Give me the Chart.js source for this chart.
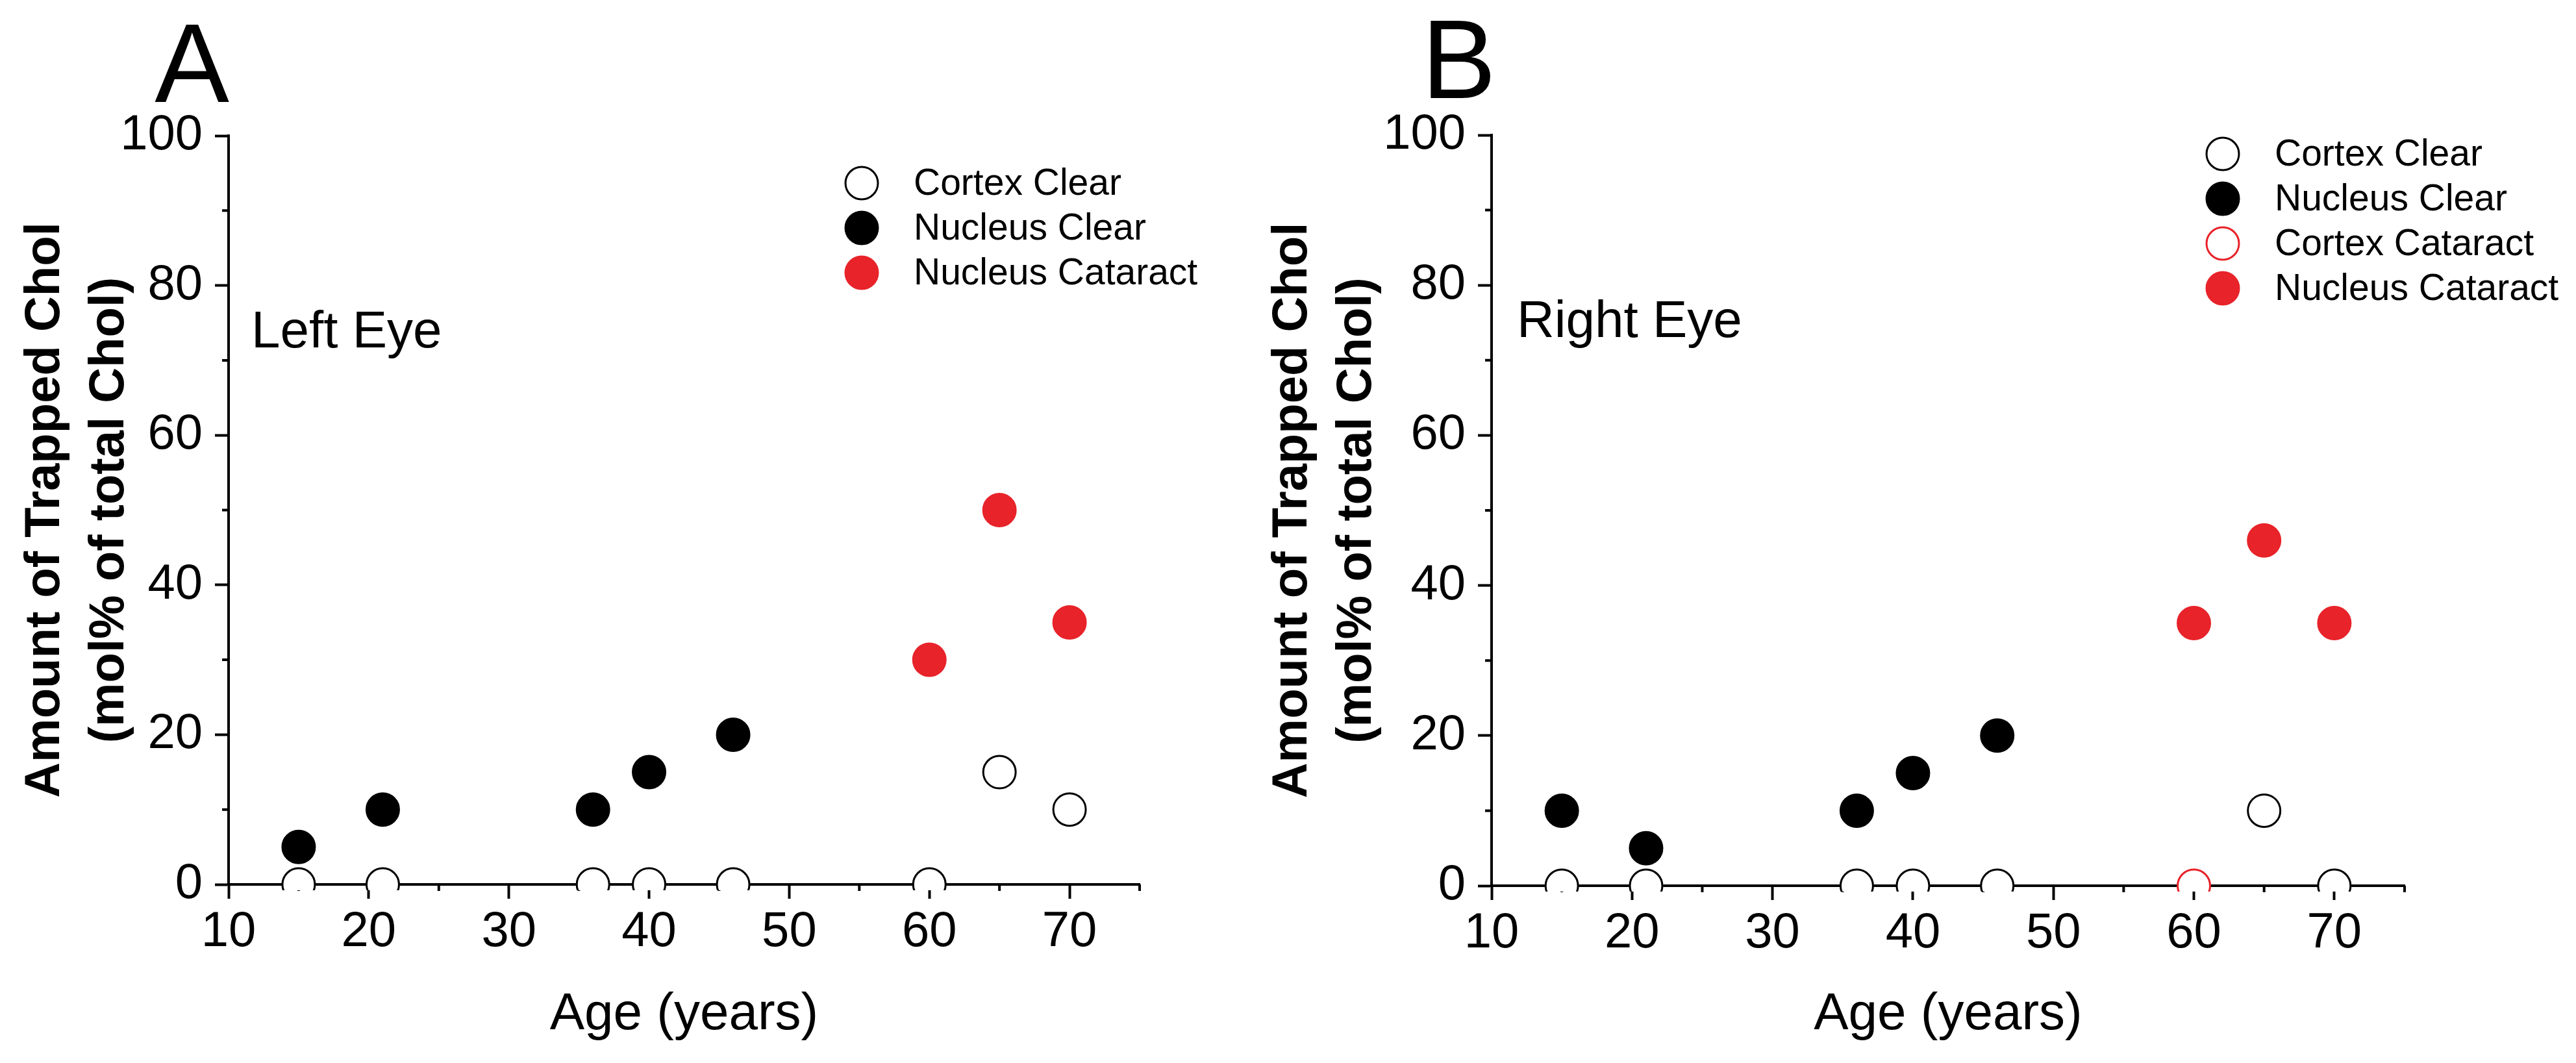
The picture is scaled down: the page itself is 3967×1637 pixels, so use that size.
<!DOCTYPE html>
<html>
<head>
<meta charset="utf-8">
<title>Trapped Chol vs Age</title>
<script src="https://cdn.jsdelivr.net/npm/chart.js@4.4.1/dist/chart.umd.min.js"></script>
<style>
  html, body { margin: 0; padding: 0; background: #fff; }
  .panel { position: absolute; top: 0; height: 1637px; }
  #panelA { left: 0; width: 1900px; }
  #panelB { left: 1900px; width: 2067px; }
</style>
</head>
<body>
<div class="panel" id="panelA"><canvas id="chartA"></canvas></div>
<div class="panel" id="panelB"><canvas id="chartB"></canvas></div>
<script>
// Panel A - left eye
const leftCortexClearAge = [15, 21, 36, 40, 46, 60, 65, 70];
const leftCortexClearVal = [0, 0, 0, 0, 0, 0, 15, 10];
const leftNucleusClearAge = [15, 21, 36, 40, 46];
const leftNucleusClearVal = [5, 10, 10, 15, 20];
const leftNucleusCataractAge = [60, 65, 70];
const leftNucleusCataractVal = [30, 50, 35];

// Panel B - right eye
const rightCortexClearAge = [15, 21, 36, 40, 46, 65, 70];
const rightCortexClearVal = [0, 0, 0, 0, 0, 10, 0];
const rightNucleusClearAge = [15, 21, 36, 40, 46];
const rightNucleusClearVal = [10, 5, 10, 15, 20];
const rightCortexCataractAge = [60];
const rightCortexCataractVal = [0];
const rightNucleusCataractAge = [60, 65, 70];
const rightNucleusCataractVal = [35, 46, 35];

// axes
const xTicks = [10, 20, 30, 40, 50, 60, 70];
const xMinorTicks = [15, 25, 35, 45, 55, 65, 75];
const yTicks = [0, 20, 40, 60, 80, 100];
const yMinorTicks = [10, 30, 50, 70, 90];

const FONT = "'Liberation Sans', Arial, sans-serif";
const RED = '#e8232a';
Chart.defaults.font.family = FONT;
Chart.defaults.color = '#000';

function toPoints(ages, vals) {
    return ages.map((a, i) => ({ x: a, y: vals[i] }));
}

function series(label, ages, vals, fill, stroke) {
    return {
        label: label,
        data: toPoints(ages, vals),
        showLine: false,
        pointStyle: 'circle',
        pointRadius: 25,
        pointHoverRadius: 25,
        pointBackgroundColor: fill,
        pointBorderColor: stroke,
        pointBorderWidth: 3,
        clip: { left: false, top: false, right: false, bottom: 9 }
    };
}

// minor ticks, panel letter, eye label and legend
const decor = {
    id: 'decor',
    beforeDatasetsDraw(chart, args, o) {
        const ctx = chart.ctx;
        const xs = chart.scales.x, ys = chart.scales.y;
        ctx.save();
        ctx.strokeStyle = '#000';
        ctx.lineWidth = 4;
        ctx.beginPath();
        xMinorTicks.forEach(v => {
            const px = xs.getPixelForValue(v);
            ctx.moveTo(px, xs.top);
            ctx.lineTo(px, xs.top + 10);
        });
        yMinorTicks.forEach(v => {
            const py = ys.getPixelForValue(v);
            ctx.moveTo(ys.right, py);
            ctx.lineTo(ys.right - 10, py);
        });
        ctx.stroke();
        ctx.restore();
    },
    afterDraw(chart, args, o) {
        const ctx = chart.ctx;
        ctx.save();
        ctx.fillStyle = '#000';
        ctx.textBaseline = 'alphabetic';

        // panel letter
        ctx.font = '172px ' + FONT;
        ctx.textAlign = 'right';
        ctx.fillText(o.letter, o.letterX, o.letterY);

        // eye label
        ctx.font = '80px ' + FONT;
        ctx.textAlign = 'left';
        ctx.fillText(o.eye, o.eyeX, o.eyeY);

        // legend
        ctx.font = '57px ' + FONT;
        ctx.textBaseline = 'middle';
        chart.data.datasets.forEach((ds, i) => {
            const cy = o.legendY + i * 69;
            ctx.beginPath();
            ctx.arc(o.legendX, cy, 25, 0, Math.PI * 2);
            ctx.fillStyle = ds.pointBackgroundColor;
            ctx.fill();
            ctx.lineWidth = ds.pointBorderWidth;
            ctx.strokeStyle = ds.pointBorderColor;
            ctx.stroke();
            ctx.fillStyle = '#000';
            ctx.fillText(ds.label, o.legendX + 80, cy + 2);
        });
        ctx.restore();
    }
};

function makeChart(id, datasets, p) {
    return new Chart(document.getElementById(id), {
        type: 'scatter',
        data: { datasets: datasets },
        plugins: [decor],
        options: {
            responsive: true,
            maintainAspectRatio: false,
            animation: false,
            devicePixelRatio: 1,
            events: [],
            layout: { padding: { left: 0, top: p.top, right: p.right, bottom: 0 } },
            scales: {
                x: {
                    type: 'linear',
                    min: 10,
                    max: 75,
                    afterBuildTicks: s => { s.ticks = xTicks.map(v => ({ value: v })); },
                    afterFit: s => { s.height = p.xHeight; },
                    grid: { drawOnChartArea: false, drawTicks: true, tickLength: 22, tickWidth: 4, tickColor: '#000' },
                    border: { display: true, color: '#000', width: 4 },
                    ticks: { color: '#000', font: { size: 76 }, padding: 6, maxRotation: 0, autoSkip: false },
                    title: {
                        display: true,
                        text: 'Age (years)',
                        color: '#000',
                        font: { size: 80 },
                        padding: { top: 0, bottom: 26 }
                    }
                },
                y: {
                    type: 'linear',
                    min: 0,
                    max: 100,
                    afterBuildTicks: s => { s.ticks = yTicks.map(v => ({ value: v })); },
                    afterFit: s => { s.width = p.yWidth; },
                    grid: { drawOnChartArea: false, drawTicks: true, tickLength: 21, tickWidth: 4, tickColor: '#000' },
                    border: { display: true, color: '#000', width: 4 },
                    ticks: { color: '#000', font: { size: 76 }, padding: 19, autoSkip: false },
                    title: {
                        display: true,
                        text: ['Amount of Trapped Chol', '(mol% of total Chol)'],
                        color: '#000',
                        font: { size: 76, weight: 'bold', lineHeight: 1.3 },
                        padding: { top: p.titlePad, bottom: 0 }
                    }
                }
            },
            plugins: {
                legend: { display: false },
                tooltip: { enabled: false },
                decor: p
            }
        }
    });
}

makeChart('chartA', [
    series('Cortex Clear', leftCortexClearAge, leftCortexClearVal, '#fff', '#000'),
    series('Nucleus Clear', leftNucleusClearAge, leftNucleusClearVal, '#000', '#000'),
    series('Nucleus Cataract', leftNucleusCataractAge, leftNucleusCataractVal, RED, RED)
], {
    top: 209, right: 145, xHeight: 275, yWidth: 352, titlePad: 21,
    letter: 'A', letterX: 353, letterY: 157,
    eye: 'Left Eye', eyeX: 387, eyeY: 535,
    legendX: 1327, legendY: 282
});

makeChart('chartB', [
    series('Cortex Clear', rightCortexClearAge, rightCortexClearVal, '#fff', '#000'),
    series('Nucleus Clear', rightNucleusClearAge, rightNucleusClearVal, '#000', '#000'),
    series('Cortex Cataract', rightCortexCataractAge, rightCortexCataractVal, '#fff', RED),
    series('Nucleus Cataract', rightNucleusCataractAge, rightNucleusCataractVal, RED, RED)
], {
    top: 208, right: 264, xHeight: 273, yWidth: 397, titlePad: 42,
    letter: 'B', letterX: 404, letterY: 151,
    eye: 'Right Eye', eyeX: 436, eyeY: 519,
    legendX: 1523, legendY: 237
});
</script>
</body>
</html>
